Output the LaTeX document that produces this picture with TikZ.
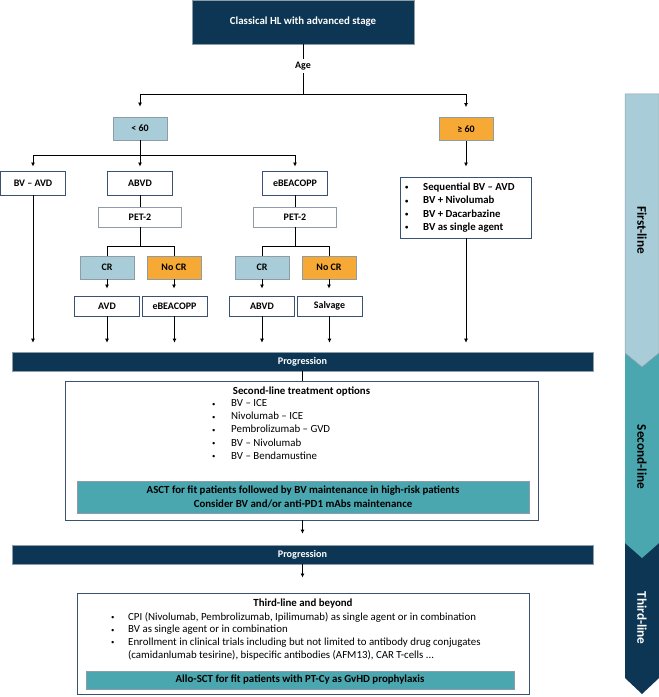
\documentclass[tikz,border=0pt]{standalone}
\usepackage{fontspec}
\setmainfont{Carlito}
\usetikzlibrary{arrows.meta,calc}
\definecolor{navy}{HTML}{0C3654}
\definecolor{tealc}{HTML}{4AA7AF}
\definecolor{lblue}{HTML}{A8CDD8}
\definecolor{orng}{HTML}{F7A935}
\definecolor{boxb}{HTML}{3A5173}
\definecolor{grayb}{HTML}{8E9CA8}
\newcommand\myfs{\fontsize{10}{12}\selectfont}
\newcommand\bul[1]{\makebox[#1][l]{\raisebox{0.6bp}{\scalebox{0.62}{•}}}}
\begin{document}
\begin{tikzpicture}[x=1bp,y=-1bp,
  every node/.style={font=\myfs\bfseries, inner sep=0pt},
  ln/.style={line width=0.9bp, draw=black},
  arr/.style={line width=0.9bp, draw=black, -{Latex[length=4bp,width=4bp]}},
  wbox/.style={draw=boxb, line width=0.9bp, fill=white},
  pbox/.style={draw=grayb, line width=0.9bp, fill=white},
  bbox/.style={draw=grayb, line width=0.8bp, fill=lblue, minimum width=54bp, minimum height=23bp},
  obox/.style={draw=grayb, line width=0.8bp, fill=orng, minimum width=54bp, minimum height=23bp},
  navybar/.style={draw=grayb, line width=0.6bp, fill=navy, text=white},
  tealbar/.style={draw=grayb, line width=0.6bp, fill=tealc, align=center},
  bigtxt/.style={font=\fontsize{10.9}{13.3}\selectfont\bfseries},
  listtxt/.style={font=\fontsize{10.9}{13.2}\selectfont, align=left},
  sidelab/.style={font=\fontsize{13.3}{16}\selectfont\bfseries, rotate=-90}
]
\useasboundingbox (0,0) rectangle (659,697);

% side chevrons
\fill[navy] (625,543) -- (659,543) -- (659,678) -- (642,694) -- (625,678) -- cycle;
\fill[tealc] (625,353) -- (659,353) -- (659,543) -- (642,558) -- (625,543) -- cycle;
\filldraw[fill=lblue, draw=grayb, line width=0.5bp] (625,94) -- (659,94) -- (659,353) -- (642,367) -- (625,353) -- cycle;
\node[sidelab] (l1) at (642,230) {First-line};
\node[sidelab] (l2) at (642,457) {Second-line};
\node[sidelab, text=white] (l3) at (642,618) {Third-line};

% top
\node[navybar, bigtxt, minimum width=222bp, minimum height=44bp] (title) at (303,22) {Classical HL with advanced stage};
\node[inner sep=3bp] (age) at (303,66) {Age};
\coordinate (j1) at (303,94);
\coordinate (j1l) at (140,94);
\coordinate (j1r) at (466,94);
\draw[ln] (title) -- (age);
\draw[ln] (age) -- (j1);
\draw[ln] (j1l) -- (j1r);

\node[bbox] (lt60) at (140,128.5) {< 60};
\node[obox] (ge60) at (466,129) {≥ 60};
\draw[arr, shorten >=10bp] (j1l) -- (lt60);
\draw[arr, shorten >=10bp] (j1r) -- (ge60);

% < 60 branches
\coordinate (j2) at (140,155);
\coordinate (j2l) at (33,155);
\coordinate (j2r) at (295,155);
\draw[ln] (lt60) -- (j2);
\draw[ln] (j2l) -- (j2r);
\node[wbox, minimum width=65bp, minimum height=24bp] (bvavd) at (33,183) {BV – AVD};
\node[wbox, minimum width=65bp, minimum height=24bp] (abvd) at (140,183) {ABVD};
\node[wbox, minimum width=65bp, minimum height=24bp] (ebea1) at (295,183) {eBEACOPP};
\draw[arr, shorten >=4bp] (j2l) -- (bvavd);
\draw[arr, shorten >=4bp] (j2) -- (abvd);
\draw[arr, shorten >=4bp] (j2r) -- (ebea1);

\node[pbox, minimum width=83bp, minimum height=20bp] (peta) at (140,217) {PET-2};
\node[pbox, minimum width=83bp, minimum height=20bp] (petb) at (295,217) {PET-2};
\draw[ln] (abvd) -- (peta);
\draw[ln] (ebea1) -- (petb);

\coordinate (j3) at (140,246);
\coordinate (j3l) at (107,246);
\coordinate (j3r) at (174,246);
\coordinate (j4) at (295,246);
\coordinate (j4l) at (262,246);
\coordinate (j4r) at (329,246);
\draw[ln] (peta) -- (j3);
\draw[ln] (petb) -- (j4);
\draw[ln] (j3l) -- (j3r);
\draw[ln] (j4l) -- (j4r);

\node[bbox] (cra) at (107,267.5) {CR};
\node[obox] (nocra) at (174,267.5) {No CR};
\node[bbox] (crb) at (262,267.5) {CR};
\node[obox] (nocrb) at (329,267.5) {No CR};
\draw[ln] (j3l) -- (cra);
\draw[ln] (j3r) -- (nocra);
\draw[ln] (j4l) -- (crb);
\draw[ln] (j4r) -- (nocrb);

\node[wbox, minimum width=65bp, minimum height=20bp] (avd) at (107,306) {AVD};
\node[wbox, minimum width=65bp, minimum height=20bp] (ebea2) at (174.5,306) {eBEACOPP};
\node[wbox, minimum width=65bp, minimum height=20bp] (abvd2) at (262,306) {ABVD};
\node[wbox, minimum width=65bp, minimum height=20bp] (salv) at (329.5,306) {Salvage};
\draw[arr, shorten >=7bp] (cra) -- (cra |- avd.north);
\draw[arr, shorten >=7bp] (nocra) -- (nocra |- ebea2.north);
\draw[arr, shorten >=7bp] (crb) -- (crb |- abvd2.north);
\draw[arr, shorten >=7bp] (nocrb) -- (nocrb |- salv.north);

% >= 60 list
\node[wbox, minimum width=131bp, minimum height=61bp] (gelist) at (466,207.5) {};
\node[listtxt, font=\fontsize{10.8}{13.4}\selectfont\bfseries, anchor=west] (getxt) at (405,207.5) {%
\bul{18bp}Sequential BV – AVD\\
\bul{18bp}BV + Nivolumab\\
\bul{18bp}BV + Dacarbazine\\
\bul{18bp}BV as single agent};
\draw[arr, shorten >=10bp] (ge60) -- (gelist);

% progression 1
\node[navybar, font=\fontsize{10.2}{12}\selectfont\bfseries, minimum width=581bp, minimum height=19bp] (prog1) at (302.5,361.5) {Progression};
\draw[arr, shorten >=9bp] (bvavd) -- (bvavd |- prog1.north);
\draw[arr, shorten >=9bp] (avd) -- (avd |- prog1.north);
\draw[arr, shorten >=9bp] (ebea2) -- (ebea2 |- prog1.north);
\draw[arr, shorten >=9bp] (abvd2) -- (abvd2 |- prog1.north);
\draw[arr, shorten >=9bp] (salv) -- (salv |- prog1.north);
\draw[arr, shorten >=9bp] (gelist) -- (gelist |- prog1.north);

% second line box
\node[wbox, minimum width=473bp, minimum height=139bp] (sec) at (301.5,450.5) {};
\draw[ln] (prog1) -- (prog1 |- sec.north);
\node[bigtxt] (sectitle) at (301.5,392) {Second-line treatment options};
\node[listtxt, anchor=west] (seclist) at (212,429.5) {%
\bul{19bp}BV – ICE\\
\bul{19bp}Nivolumab – ICE\\
\bul{19bp}Pembrolizumab – GVD\\
\bul{19bp}BV – Nivolumab\\
\bul{19bp}BV – Bendamustine};
\node[tealbar, bigtxt, minimum width=452bp, minimum height=32bp] (asct) at (303,497) {ASCT for fit patients followed by BV maintenance in high-risk patients\\Consider BV and/or anti-PD1 mAbs maintenance};

% progression 2
\node[navybar, font=\fontsize{10.2}{12}\selectfont\bfseries, minimum width=581bp, minimum height=19bp] (prog2) at (302.5,554.5) {Progression};
\draw[arr, shorten >=11bp] (prog2 |- sec.south) -- (prog2.north);

% third line box
\node[wbox, minimum width=452bp, minimum height=101bp] (third) at (303,643.5) {};
\draw[arr, shorten >=15bp] (prog2) -- (prog2 |- third.north);
\node[bigtxt] (thirdtitle) at (303,604) {Third-line and beyond};
\node[listtxt, font=\fontsize{10.9}{12.7}\selectfont, anchor=west] (thirdlist) at (111,636) {%
\bul{17bp}CPI (Nivolumab, Pembrolizumab, Ipilimumab) as single agent or in combination\\
\bul{17bp}BV as single agent or in combination\\
\bul{17bp}Enrollment in clinical trials including but not limited to antibody drug conjugates\\
\hspace*{17bp}(camidanlumab tesirine), bispecific antibodies (AFM13), CAR T-cells ...};
\node[tealbar, bigtxt, minimum width=428bp, minimum height=18bp] (allo) at (300,680) {Allo-SCT for fit patients with PT-Cy as GvHD prophylaxis};
\end{tikzpicture}
\end{document}
